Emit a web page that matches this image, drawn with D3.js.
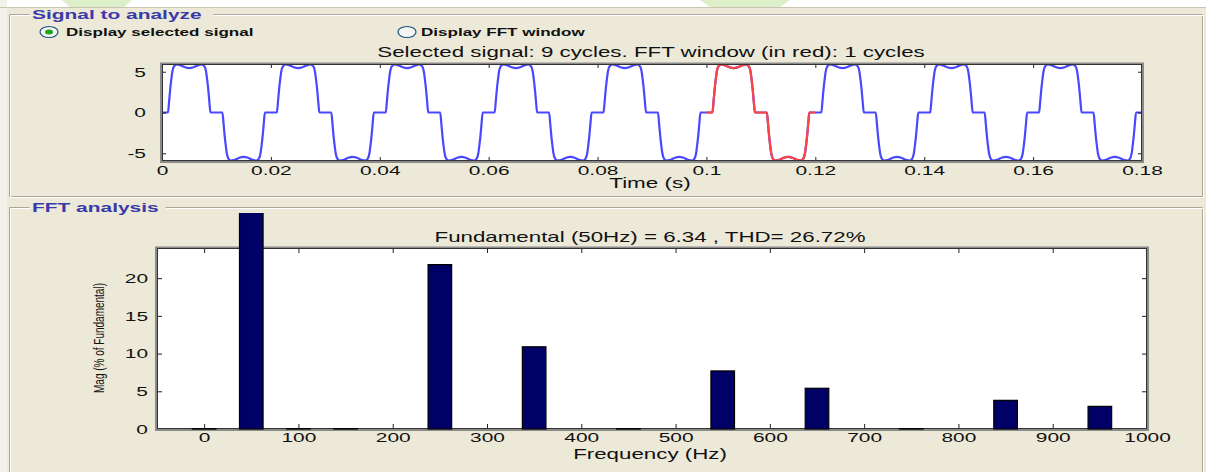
<!DOCTYPE html>
<html>
<head>
<meta charset="utf-8">
<script src="https://cdn.jsdelivr.net/npm/d3@7"></script>
<style>
body { margin: 0; background: #ECE9D8; overflow: hidden; }
svg { display: block; }
text { font-family: "Liberation Sans", Arial, sans-serif; fill: #111; }
</style>
</head>
<body>
<svg id="fig" width="1206" height="472"></svg>
<script>
// one period of the selected signal (ms inside the cycle, value)
var cycleMs  = [0, 1.1, 1.3, 1.5, 1.7, 1.9, 2.2, 2.7, 3.2, 4.2, 5.0, 5.8, 6.8, 7.3, 7.8, 8.1, 8.3, 8.5, 8.7, 8.9,
                10, 11.1, 11.3, 11.5, 11.7, 11.9, 12.2, 12.7, 13.2, 14.2, 15.0, 15.8, 16.8, 17.3, 17.8, 18.1, 18.3, 18.5, 18.7, 18.9];
var cycleVal = [0, 0, 1.3, 2.8, 4.0, 5.0, 5.65, 5.9, 5.85, 5.55, 5.45, 5.55, 5.85, 5.9, 5.65, 5.0, 4.0, 2.8, 1.3, 0,
                0, 0, -1.3, -2.8, -4.0, -5.0, -5.65, -5.9, -5.85, -5.55, -5.45, -5.55, -5.85, -5.9, -5.65, -5.0, -4.0, -2.8, -1.3, 0];
var nCycles = 9;
var fftCycle = 5;          // the cycle drawn in red (0.10 - 0.12 s)
var timeTicks = [0, 0.02, 0.04, 0.06, 0.08, 0.1, 0.12, 0.14, 0.16, 0.18];
var sigTicks = [-5, 0, 5];

// FFT bars (Hz, % of fundamental)
var harmFreq = [0, 50, 100, 150, 250, 350, 450, 550, 650, 750, 850, 950];
var harmMag  = [0.05, 100, 0.05, 0.05, 21.8, 10.9, 0.05, 7.7, 5.4, 0.05, 3.8, 3.0];
var freqTicks = [0, 100, 200, 300, 400, 500, 600, 700, 800, 900, 1000];
var magTicks = [0, 5, 10, 15, 20];

var SX = 1.55; // the screenshot is stretched sideways, text too
var svg = d3.select("#fig");

// page strip above the window
svg.append("rect").attr("x", 0).attr("y", 0).attr("width", 1206).attr("height", 7).attr("fill", "#fff");
svg.append("rect").attr("x", 0).attr("y", 0).attr("width", 7).attr("height", 472).attr("fill", "#f3f2ea");
svg.append("polygon").attr("points", "62,0 132,0 124,7 70,7").attr("fill", "#dcefc8");
svg.append("polygon").attr("points", "700,0 790,0 780,7 710,7").attr("fill", "#dcefc8");
svg.append("line").attr("x1", 0).attr("x2", 1206).attr("y1", 7.5).attr("y2", 7.5).attr("stroke", "#c9c5b3");

function txt(x, y, s, anchor, size, weight, color) {
  return svg.append("text")
    .attr("transform", "translate(" + x + "," + y + ") scale(" + SX + ",1)")
    .attr("text-anchor", anchor || "start")
    .style("font-size", (size || 14) + "px")
    .style("font-weight", weight || "normal")
    .style("fill", color || "#111")
    .text(s);
}

// etched group box with a title cut into the top line
function groupBox(x, y, w, h, title, tw) {
  var g = svg.append("g");
  var pts = [[x + 22 + tw, y], [x + w, y], [x + w, y + h], [x, y + h], [x, y], [x + 20, y]];
  g.append("path").attr("d", d3.line()(pts)).attr("fill", "none").attr("stroke", "#aca899").attr("transform", "translate(0.5,0.5)");
  g.append("path").attr("d", d3.line()(pts)).attr("fill", "none").attr("stroke", "#fff").attr("transform", "translate(1.5,1.5)");
  txt(x + 23, y + 5, title, "start", 13.5, "bold", "#3a3aa8");
}
groupBox(9, 14, 1193, 182, "Signal to analyze", 182);
groupBox(9, 207, 1193, 280, "FFT analysis", 134);

// radio buttons
function radio(cx, cy, on) {
  svg.append("ellipse").attr("cx", cx).attr("cy", cy).attr("rx", 9).attr("ry", 5.5)
    .attr("fill", "#f4f4f0").attr("stroke", "#1c5180").attr("stroke-width", 1.2);
  if (on) svg.append("ellipse").attr("cx", cx).attr("cy", cy).attr("rx", 4).attr("ry", 2.5).attr("fill", "#21a121");
}
radio(49, 32, true);
txt(66, 36, "Display selected signal", "start", 11, "bold", "#111");
radio(407, 32, false);
txt(421, 36, "Display FFT window", "start", 11, "bold", "#111");

function axesBox(x0, y0, x1, y1) {
  svg.append("rect").attr("x", x0).attr("y", y0).attr("width", x1 - x0).attr("height", y1 - y0).attr("fill", "#fff");
}
// dark frame with a grey shade round it
function axesFrame(x0, y0, x1, y1) {
  svg.append("rect").attr("x", x0 - 1).attr("y", y0 - 0.5).attr("width", x1 - x0 + 2).attr("height", y1 - y0 + 1.5)
    .attr("fill", "none").attr("stroke", "#8a8a8a").attr("stroke-width", 2);
  svg.append("rect").attr("x", x0 + 0.5).attr("y", y0 + 0.5).attr("width", x1 - x0 - 1).attr("height", y1 - y0 - 1)
    .attr("fill", "none").attr("stroke", "#333").attr("stroke-width", 1);
}
function styleAxis(g, left, gap) {
  g.select(".domain").remove();
  g.selectAll(".tick line").attr("stroke", "#222");
  g.selectAll("text").attr("fill", "#111").style("font-size", "13.5px")
    .style("font-family", '"Liberation Sans", Arial, sans-serif')
    .attr("transform", "scale(" + SX + ",1)");
  if (left) g.selectAll("text").attr("x", -gap / SX);
}
function innerTicks(g) {
  g.select(".domain").remove();
  g.selectAll("line").attr("stroke", "#222");
}

// ---------- signal plot ----------
var xs = d3.scaleLinear().domain([0, 0.18]).range([162, 1142]);
var ys = d3.scaleLinear().domain([-5.95, 5.95]).range([161, 64]);
axesBox(162, 64, 1142, 161);

svg.append("clipPath").attr("id", "sigClip").append("rect")
  .attr("x", 162).attr("y", 62).attr("width", 980).attr("height", 101);

var sigPts = [], redPts = [];
for (var k = 0; k < nCycles; k++) {
  for (var i = 0; i < cycleMs.length; i++) {
    var p = [k * 0.02 + cycleMs[i] / 1000, cycleVal[i]];
    sigPts.push(p);
    if (k === fftCycle) redPts.push(p);
  }
}
sigPts.push([nCycles * 0.02, cycleVal[0]]);
redPts.push([(fftCycle + 1) * 0.02, cycleVal[0]]);

var sigLine = d3.line().x(function(d) { return xs(d[0]); }).y(function(d) { return ys(d[1]); })
  .curve(d3.curveMonotoneX);
var sg = svg.append("g").attr("clip-path", "url(#sigClip)");
sg.append("path").attr("d", sigLine(sigPts)).attr("fill", "none").attr("stroke", "#4848ff").attr("stroke-width", 2.2);
sg.append("path").attr("d", sigLine(redPts)).attr("fill", "none").attr("stroke", "#ff4242").attr("stroke-width", 2.2);

var fmtT = function(d) { return String(+d.toFixed(2)); };
var fmtN = function(d) { return String(d); };
styleAxis(svg.append("g").attr("transform", "translate(0,161)")
  .call(d3.axisBottom(xs).tickValues(timeTicks).tickSizeInner(-4).tickSizeOuter(0).tickPadding(4).tickFormat(fmtT)));
svg.append("g").attr("transform", "translate(0,64)")
  .call(d3.axisTop(xs).tickValues(timeTicks).tickSizeInner(-4).tickSizeOuter(0).tickFormat(""))
  .call(innerTicks);
styleAxis(svg.append("g").attr("transform", "translate(162,0)")
  .call(d3.axisLeft(ys).tickValues(sigTicks).tickSizeInner(-4).tickSizeOuter(0).tickFormat(fmtN)), true, 16);
svg.append("g").attr("transform", "translate(1142,0)")
  .call(d3.axisRight(ys).tickValues(sigTicks).tickSizeInner(-4).tickSizeOuter(0).tickFormat(""))
  .call(innerTicks);
axesFrame(162, 64, 1142, 161);

txt(651, 57, "Selected signal: 9 cycles. FFT window (in red): 1 cycles", "middle", 14.4);
txt(650, 188, "Time (s)", "middle", 14.5);

// ---------- FFT plot ----------
var xf = d3.scaleLinear().domain([-50, 1000]).range([157, 1147]);
var yf = d3.scaleLinear().domain([0, 24]).range([429, 248]);
axesBox(157, 248, 1147, 429);

styleAxis(svg.append("g").attr("transform", "translate(0,429)")
  .call(d3.axisBottom(xf).tickValues(freqTicks).tickSizeInner(-5).tickSizeOuter(0).tickPadding(3).tickFormat(fmtN)));
svg.append("g").attr("transform", "translate(0,248)")
  .call(d3.axisTop(xf).tickValues(freqTicks).tickSizeInner(-5).tickSizeOuter(0).tickFormat(""))
  .call(innerTicks);
styleAxis(svg.append("g").attr("transform", "translate(157,0)")
  .call(d3.axisLeft(yf).tickValues(magTicks).tickSizeInner(-5).tickSizeOuter(0).tickFormat(fmtN)), true, 9);
svg.append("g").attr("transform", "translate(1147,0)")
  .call(d3.axisRight(yf).tickValues(magTicks).tickSizeInner(-5).tickSizeOuter(0).tickFormat(""))
  .call(innerTicks);
axesFrame(157, 248, 1147, 429);

// bars are not clipped by the axes, only by the group box
svg.append("clipPath").attr("id", "barClip").append("rect")
  .attr("x", 157).attr("y", 213).attr("width", 990).attr("height", 217);
var bw = xf(25) - xf(0);
svg.append("g").attr("clip-path", "url(#barClip)")
  .selectAll("rect").data(harmFreq).enter().append("rect")
  .attr("x", function(d) { return xf(d) - bw / 2; })
  .attr("y", function(d, i) { return yf(harmMag[i]); })
  .attr("width", bw)
  .attr("height", function(d, i) { return yf(0) - yf(harmMag[i]); })
  .attr("fill", "#000066")
  .attr("stroke", "#000")
  .attr("stroke-width", 1.2);

txt(650, 242, "Fundamental (50Hz) = 6.34 , THD= 26.72%", "middle", 14.4);
txt(650, 459, "Frequency (Hz)", "middle", 14.4);
svg.append("text")
  .attr("transform", "translate(104,338) scale(" + SX + ",1) rotate(-90)")
  .attr("text-anchor", "middle")
  .style("font-size", "10px")
  .text("Mag (% of Fundamental)");
</script>
</body>
</html>
